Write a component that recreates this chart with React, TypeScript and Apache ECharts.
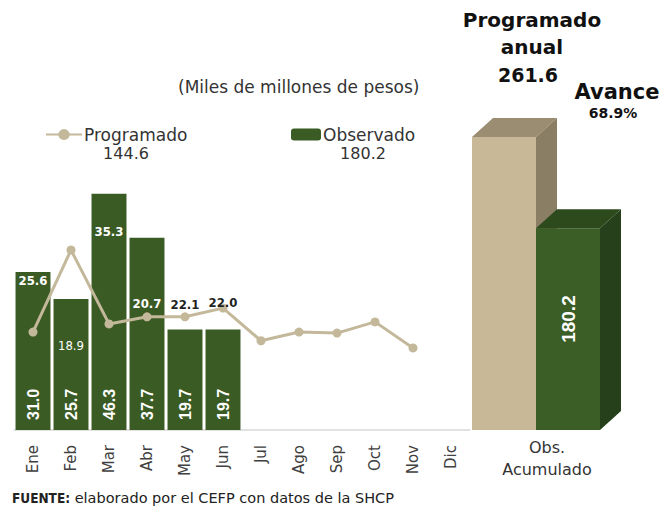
import React, { useEffect, useRef } from "react";
import * as echarts from "echarts";

const months = ["Ene", "Feb", "Mar", "Abr", "May", "Jun", "Jul", "Ago", "Sep", "Oct", "Nov", "Dic"];
const observado = [31.0, 25.7, 46.3, 37.7, 19.7, 19.7];
const programadoMensual = [25.6, 18.9, 35.3, 20.7, 22.1, 22.0];
const programadoLinea = [19.2, 35.3, 20.8, 22.2, 22.2, 23.9, 17.5, 19.2, 19.0, 21.2, 16.1, null];
const acumCategory = ["Obs.\nAcumulado"];
const acumValues = [261.6, 180.2];
const totalProgramado = 144.6;
const totalObservado = 180.2;
const programadoAnual = 261.6;
const avance = "68.9%";

// label layout (pixels), style only
const progLabelOffset = [2, 40, 31, 59, -32, -34];
const progLabelColor = ["#ffffff", "#ffffff", "#ffffff", "#ffffff", "#222222", "#222222"];
const progLabelWeight = ["bold", "normal", "bold", "bold", "bold", "bold"];

const FONT = "DejaVu Sans";
const GREEN = "#3b5b25";
const TAN = "#c4b89b";

export default function App() {
  const ref = useRef<HTMLDivElement>(null);
  useEffect(() => {
    const chart = echarts.init(ref.current!, null, { renderer: "svg" });
    const option: any = {
      animation: false,
      textStyle: { fontFamily: FONT },
      grid: [
        { left: 14, width: 456, top: 124, bottom: 80 },
        { left: 472, width: 150, top: 94, bottom: 80 },
      ],
      xAxis: [
        {
          gridIndex: 0,
          type: "category",
          data: months,
          axisLine: { lineStyle: { color: "#d9d9d9", width: 1.5 } },
          axisTick: { show: false },
          axisLabel: { rotate: 90, color: "#404040", fontSize: 15, margin: 15, fontFamily: FONT },
        },
        {
          gridIndex: 1,
          type: "category",
          data: acumCategory,
          axisLine: { show: false },
          axisTick: { show: false },
          axisLabel: { color: "#333333", fontSize: 16, lineHeight: 22, margin: 6, fontFamily: FONT },
        },
      ],
      yAxis: [
        { gridIndex: 0, type: "value", min: 0, max: 60, show: false, splitLine: { show: false } },
        { gridIndex: 1, type: "value", min: 0, max: 300, show: false, splitLine: { show: false } },
      ],
      legend: [
        {
          data: ["Programado"],
          left: 40,
          top: 121,
          itemWidth: 36,
          itemHeight: 14,
          itemGap: 2,
          textStyle: { fontSize: 17, color: "#333333", fontFamily: FONT, padding: [0, 0, 0, -3] },
        },
        {
          data: ["Observado"],
          left: 286,
          top: 121,
          itemWidth: 30,
          itemHeight: 12,
          textStyle: { fontSize: 17, color: "#333333", fontFamily: FONT, padding: [0, 0, 0, -3] },
        },
      ],
      graphic: [
        { type: "text", left: 178, top: 78, style: { text: "(Miles de millones de pesos)", fontSize: 17, fill: "#333333", fontFamily: FONT } },
        { type: "text", x: 126, y: 153, style: { text: totalProgramado.toFixed(1), fontSize: 16, fill: "#333333", fontFamily: FONT, align: "center", verticalAlign: "middle" } },
        { type: "text", x: 363, y: 153, style: { text: totalObservado.toFixed(1), fontSize: 16, fill: "#333333", fontFamily: FONT, align: "center", verticalAlign: "middle" } },
        { type: "text", x: 532, y: 20, style: { text: "Programado", fontSize: 20, fontWeight: "bold", fill: "#111111", fontFamily: FONT, align: "center", verticalAlign: "middle" } },
        { type: "text", x: 532, y: 47, style: { text: "anual", fontSize: 20, fontWeight: "bold", fill: "#111111", fontFamily: FONT, align: "center", verticalAlign: "middle" } },
        { type: "text", x: 528, y: 75, style: { text: programadoAnual.toFixed(1), fontSize: 19, fontWeight: "bold", fill: "#111111", fontFamily: FONT, align: "center", verticalAlign: "middle" } },
        { type: "text", x: 617, y: 92, style: { text: "Avance", fontSize: 21, fontWeight: "bold", fill: "#111111", fontFamily: FONT, align: "center", verticalAlign: "middle" } },
        { type: "text", x: 613, y: 113, style: { text: avance, fontSize: 14, fontWeight: "bold", fill: "#111111", fontFamily: FONT, align: "center", verticalAlign: "middle" } },
        {
          type: "text",
          left: 12,
          top: 490,
          style: {
            text: "{b|FUENTE:} elaborado por el CEFP con datos de la SHCP",
            fontSize: 14.5,
            fill: "#222222",
            fontFamily: FONT,
            rich: { b: { fontWeight: "bold", fontSize: 13.5, fill: "#222222", fontFamily: "DejaVu Sans Condensed" } },
          },
        },
      ],
      series: [
        {
          name: "Observado",
          type: "bar",
          xAxisIndex: 0,
          yAxisIndex: 0,
          data: observado,
          barCategoryGap: "8%",
          itemStyle: { color: GREEN },
          label: {
            show: true,
            position: "insideBottom",
            rotate: 90,
            align: "left",
            verticalAlign: "middle",
            distance: 10,
            color: "#ffffff",
            fontSize: 16,
            fontWeight: "bold",
            fontFamily: "Liberation Sans",
            formatter: (p: any) => p.value.toFixed(1),
          },
          z: 2,
        },
        {
          name: "progLabels",
          type: "bar",
          xAxisIndex: 0,
          yAxisIndex: 0,
          data: observado.map((v, i) => ({
            value: v,
            label: {
              offset: [0, progLabelOffset[i]],
              color: progLabelColor[i],
              fontWeight: progLabelWeight[i],
            },
          })),
          barGap: "-100%",
          barCategoryGap: "8%",
          itemStyle: { color: "rgba(0,0,0,0)" },
          label: {
            show: true,
            position: "insideTop",
            distance: 0,
            fontSize: 13,
            fontFamily: "DejaVu Sans Condensed",
            formatter: (p: any) => programadoMensual[p.dataIndex].toFixed(1),
          },
          silent: true,
          z: 5,
        },
        {
          name: "Programado",
          type: "line",
          xAxisIndex: 0,
          yAxisIndex: 0,
          data: programadoLinea,
          symbol: "circle",
          symbolSize: 9,
          lineStyle: { color: TAN, width: 3 },
          itemStyle: { color: TAN },
          z: 4,
        },
        {
          name: "acumulado",
          type: "custom",
          xAxisIndex: 1,
          yAxisIndex: 1,
          data: acumValues.map((v, i) => [0, v, i]),
          renderItem: (params: any, api: any) => {
            const idx = api.value(2);
            const v = api.value(1);
            const topPt = api.coord([0, v]);
            const basePt = api.coord([0, 0]);
            const cx = topPt[0];
            const w = 64;
            const dx = 21;
            const dy = 19;
            const x0 = cx - 75 + idx * w;
            const y0 = topPt[1];
            const yb = basePt[1];
            const cols = idx === 0
              ? { front: "#c8b898", top: "#9a8d71", side: "#8a7e64" }
              : { front: "#3b5e27", top: "#2d4a1d", side: "#25401a" };
            const children: any[] = [
              { type: "rect", shape: { x: x0, y: y0, width: w, height: yb - y0 }, style: { fill: cols.front } },
              { type: "polygon", shape: { points: [[x0, y0], [x0 + dx, y0 - dy], [x0 + w + dx, y0 - dy], [x0 + w, y0]] }, style: { fill: cols.top } },
              { type: "polygon", shape: { points: [[x0 + w, y0], [x0 + w + dx, y0 - dy], [x0 + w + dx, yb - dy], [x0 + w, yb]] }, style: { fill: cols.side } },
            ];
            if (idx === 1) {
              children.push({
                type: "text",
                x: x0 + w / 2,
                y: (y0 + yb) / 2 - 10,
                rotation: Math.PI / 2,
                style: {
                  text: v.toFixed(1),
                  fill: "#ffffff",
                  fontSize: 19,
                  fontWeight: "bold",
                  fontFamily: "Liberation Sans",
                  align: "center",
                  verticalAlign: "middle",
                },
              });
            }
            return { type: "group", children };
          },
          z: 3,
        },
      ],
    };
    chart.setOption(option);
    return () => chart.dispose();
  }, []);
  return (
    <div
      ref={ref}
      style={{ position: "absolute", left: 0, top: 0, width: 672, height: 510, background: "#ffffff" }}
    />
  );
}
